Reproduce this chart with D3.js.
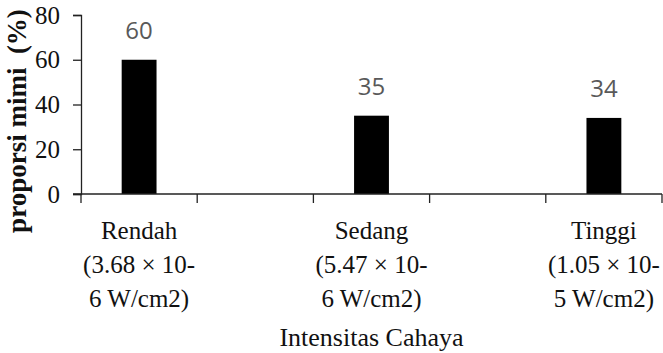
<!DOCTYPE html>
<html>
<head>
<meta charset="utf-8">
<script src="https://cdnjs.cloudflare.com/ajax/libs/d3/7.8.5/d3.min.js"></script>
<style>
  body { margin: 0; background: #fff; }
  svg { display: block; }
</style>
</head>
<body>
<script>
var w = 663;
var h = 353;

// category slots along the x axis (blank slots sit between the groups)
var slots = ["Rendah", "blank1", "Sedang", "blank2", "Tinggi"];
var categories = ["Rendah", "Sedang", "Tinggi"];
var values = [60, 35, 34];
var catLines = [
  ["Rendah", "(3.68 \u00d7 10-", "6 W/cm2)"],
  ["Sedang", "(5.47 \u00d7 10-", "6 W/cm2)"],
  ["Tinggi", "(1.05 \u00d7 10-", "5 W/cm2)"]
];
var yTicks = [0, 20, 40, 60, 80];

var margin = {top: 15, right: 1, bottom: 159, left: 81};

var svg = d3.select("body")
  .append("svg")
    .attr("width", w)
    .attr("height", h);

var x = d3.scaleBand()
  .domain(slots)
  .range([margin.left, w - margin.right])
  .padding(0);

var y = d3.scaleLinear()
  .domain([0, 80])
  .range([h - margin.bottom, margin.top]);

//bars
var bw = x.bandwidth() * 0.3;
svg.selectAll("rect.bar")
  .data(categories)
  .enter()
  .append("rect")
    .attr("class", "bar")
    .attr("x", function(d) { return x(d) + (x.bandwidth() - bw) / 2; })
    .attr("y", function(d, i) { return y(values[i]); })
    .attr("width", bw)
    .attr("height", function(d, i) { return y(0) - y(values[i]); })
    .attr("fill", "#000");

//value labels
svg.selectAll("text.val")
  .data(categories)
  .enter()
  .append("text")
    .attr("class", "val")
    .attr("x", function(d) { return x(d) + x.bandwidth() / 2; })
    .attr("y", function(d, i) { return y(values[i]) - 21; })
    .attr("text-anchor", "middle")
    .style("font-family", "'Open Sans', sans-serif")
    .style("font-size", "24px")
    .style("fill", "#595959")
    .text(function(d, i) { return values[i]; });

//y axis
var yAxis = svg.append("g")
  .attr("transform", "translate(" + margin.left + ",0)")
  .call(d3.axisLeft(y).tickValues(yTicks).tickSize(8).tickPadding(13));

//x axis: ticks on slot boundaries
var bounds = slots.map(function(s) { return x(s); }).concat([x.range()[1]]);
var xAxis = svg.append("g")
  .attr("transform", "translate(0," + y(0) + ")");
xAxis.append("line")
  .attr("x1", x.range()[0] - 8)
  .attr("x2", x.range()[1])
  .attr("stroke", "#222")
  .attr("stroke-width", 1.3);
xAxis.selectAll("line.tk")
  .data(bounds)
  .enter()
  .append("line")
    .attr("class", "tk")
    .attr("x1", function(d) { return d; })
    .attr("x2", function(d) { return d; })
    .attr("y1", 0)
    .attr("y2", 9)
    .attr("stroke", "#222")
    .attr("stroke-width", 1.3);

yAxis.select(".domain").attr("stroke", "#222").attr("stroke-width", 1.3);
yAxis.selectAll(".tick line").attr("stroke", "#222").attr("stroke-width", 1.3);
yAxis.selectAll("text")
  .style("font-family", "'Liberation Serif', 'Times New Roman', serif")
  .style("font-size", "25px")
  .style("fill", "#111");

//category labels, three lines each
var lab = svg.selectAll("text.cat")
  .data(categories)
  .enter()
  .append("text")
    .attr("class", "cat")
    .attr("text-anchor", "middle")
    .style("font-family", "'Liberation Serif', 'Times New Roman', serif")
    .style("font-size", "25px")
    .style("fill", "#111");
lab.each(function(d, i) {
  var t = d3.select(this);
  catLines[i].forEach(function(line, k) {
    t.append("tspan")
      .attr("x", x(d) + x.bandwidth() / 2)
      .attr("y", 239 + k * 34)
      .text(line);
  });
});

//axis titles
svg.append("text")
  .attr("x", (x.range()[0] + x.range()[1]) / 2)
  .attr("y", 346)
  .attr("text-anchor", "middle")
  .style("font-family", "'Liberation Serif', 'Times New Roman', serif")
  .style("font-size", "26px")
  .style("fill", "#111")
  .text("Intensitas Cahaya");

svg.append("text")
  .attr("transform", "rotate(-90)")
  .attr("x", -121)
  .attr("y", 26)
  .attr("text-anchor", "middle")
  .style("font-family", "'Liberation Serif', 'Times New Roman', serif")
  .style("font-size", "27px")
  .style("font-weight", "bold")
  .style("fill", "#111")
  .style("white-space", "pre")
  .text("proporsi mimi  (%)");
</script>
</body>
</html>
